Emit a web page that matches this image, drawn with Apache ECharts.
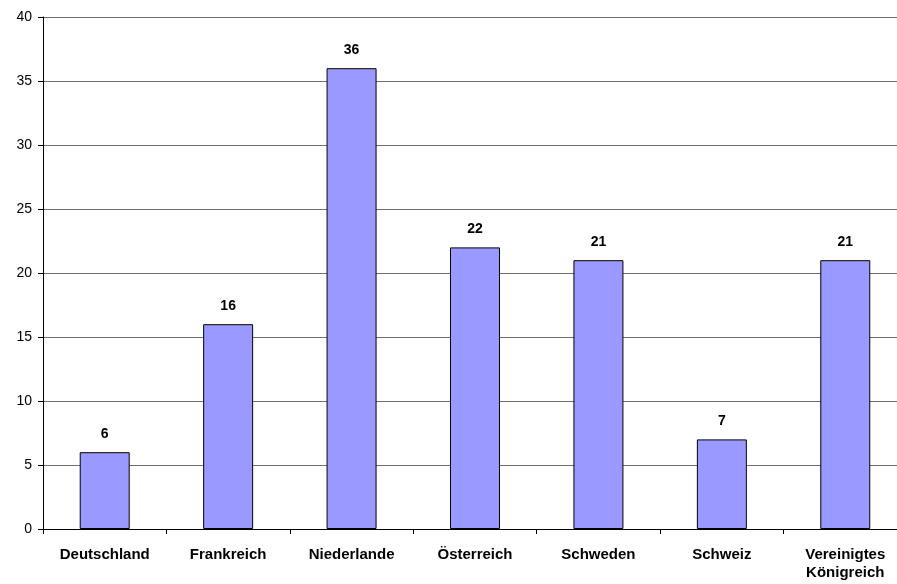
<!DOCTYPE html>
<html>
<head>
<meta charset="utf-8">
<script src="https://cdn.jsdelivr.net/npm/echarts@6/dist/echarts.min.js"></script>
<style>
  html, body { margin: 0; padding: 0; background: #fff; overflow: hidden; }
  #wrap { width: 897px; height: 584px; overflow: hidden; }
  /* plot runs slightly past the right edge of the frame */
  #chart { width: 907px; height: 584px; }
</style>
</head>
<body>
<div id="wrap"><div id="chart"></div></div>
<script>
// Countries and their values
const categories = ['Deutschland', 'Frankreich', 'Niederlande', 'Österreich', 'Schweden', 'Schweiz', 'Vereinigtes\nKönigreich'];
const values = [6, 16, 36, 22, 21, 7, 21];
const yTicks = { min: 0, max: 40, interval: 5 };

const chart = echarts.init(document.getElementById('chart'), null, { renderer: 'canvas' });

chart.setOption({
  animation: false,
  backgroundColor: '#ffffff',
  grid: { left: 43, top: 17, right: 0, bottom: 55, containLabel: false },
  xAxis: {
    type: 'category',
    data: categories,
    axisLine: { show: true, lineStyle: { color: '#000000', width: 1 } },
    axisTick: { show: true, length: 5, alignWithLabel: false, lineStyle: { color: '#000000' } },
    axisLabel: {
      interval: 0,
      margin: 17,
      color: '#000000',
      fontFamily: 'Liberation Sans, Arial, sans-serif',
      fontSize: 15,
      fontWeight: 'bold',
      lineHeight: 18
    },
    splitLine: { show: false }
  },
  yAxis: {
    type: 'value',
    min: yTicks.min,
    max: yTicks.max,
    interval: yTicks.interval,
    axisLine: { show: true, lineStyle: { color: '#000000', width: 1 } },
    axisTick: { show: true, length: 5, lineStyle: { color: '#000000' } },
    axisLabel: {
      margin: 11,
      color: '#000000',
      fontFamily: 'Liberation Sans, Arial, sans-serif',
      fontSize: 14
    },
    splitLine: { show: true, lineStyle: { color: '#6e6e6e', width: 1 } }
  },
  series: [{
    type: 'bar',
    data: values,
    barWidth: '40.5%',
    itemStyle: { color: '#9999ff', borderColor: '#000000', borderWidth: 1 },
    label: {
      show: true,
      position: 'top',
      distance: 11,
      color: '#000000',
      fontFamily: 'Liberation Sans, Arial, sans-serif',
      fontSize: 14,
      fontWeight: 'bold'
    }
  }]
});
</script>
</body>
</html>
